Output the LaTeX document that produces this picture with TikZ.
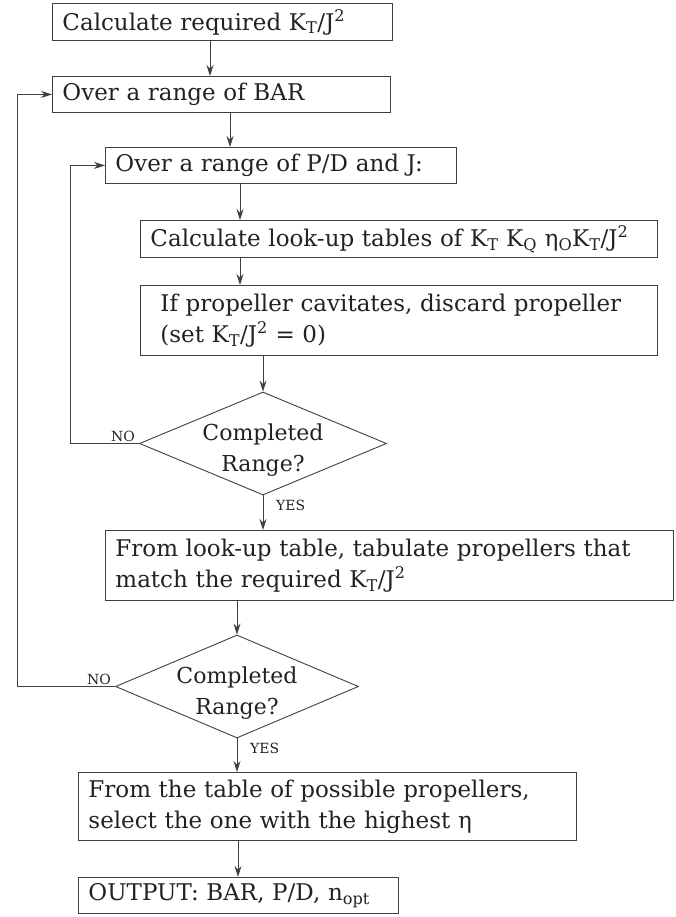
\documentclass[tikz,border=0pt]{standalone}
\usepackage{fontspec}
\setmainfont{DejaVu Serif}
\usetikzlibrary{arrows.meta,shapes.geometric}
\definecolor{linegray}{HTML}{404040}
\definecolor{textgray}{HTML}{222222}

\begin{document}
\begin{tikzpicture}[x=1pt, y=-1pt,
        box/.style={draw=linegray, line width=0.9pt, anchor=north west, inner xsep=10pt, inner ysep=0pt, align=left, text=textgray, font=\fontsize{23}{31}\selectfont},
        decision/.style={diamond, draw=linegray, line width=0.9pt, inner sep=0pt},
        question/.style={align=center, text=textgray, inner sep=0pt, font=\fontsize{22}{31}\selectfont},
        flow/.style={draw=linegray, line width=0.9pt, -{Stealth[length=11pt, width=7pt]}},
        tag/.style={font=\fontsize{14}{16}\selectfont, text=textgray, inner sep=1pt}]
        \useasboundingbox (0,0) rectangle (675,917);

        \node[box, text width=320pt, minimum height=37pt] (calc) at (52,3) {Calculate required K\textsubscript{T}/J\textsuperscript{2}};
        \node[box, text width=318pt, minimum height=36pt] (bar) at (52,76) {Over a range of BAR};
        \node[box, text width=331pt, minimum height=36pt] (pdj) at (105,147) {Over a range of P/D and J:};
        \node[box, text width=497pt, minimum height=37pt] (lookup) at (140,220) {Calculate look-up tables of K\textsubscript{T} K\textsubscript{Q} η\textsubscript{O}K\textsubscript{T}/J\textsuperscript{2}};
        \node[box, inner xsep=20pt, text width=477pt, minimum height=70pt] (cavit) at (140,285) {If propeller cavitates, discard propeller\\(set K\textsubscript{T}/J\textsuperscript{2} = 0)};
        \node[decision, minimum width=247pt, minimum height=103pt] (done1) at (263,443.5) {};
        \node[question] (q1) at (263,450) {Completed\\Range?};
        \node[box, text width=548pt, minimum height=70pt] (tab) at (105,530) {From look-up table, tabulate propellers that\\match the required K\textsubscript{T}/J\textsuperscript{2}};
        \node[decision, minimum width=243pt, minimum height=103pt] (done2) at (237,686.5) {};
        \node[question] (q2) at (237,693) {Completed\\Range?};
        \node[box, text width=478pt, minimum height=68pt] (best) at (78,772) {From the table of possible propellers,\\select the one with the highest η};
        \node[box, text width=300pt, minimum height=36pt] (out) at (78,877) {OUTPUT: BAR, P/D, n\textsubscript{opt}};

        % x positions of the vertical arrows and of the two loops
        \coordinate (a1) at (210,0);
        \coordinate (a2) at (230,0);
        \coordinate (a3) at (240,0);
        \coordinate (a4) at (238,0);
        \coordinate (outer) at (17,0);
        \coordinate (inner) at (70,0);

        \draw[flow] (calc.south -| a1) -- (bar.north -| a1);
        \draw[flow] (bar.south -| a2) -- (pdj.north -| a2);
        \draw[flow] (pdj.south -| a3) -- (lookup.north -| a3);
        \draw[flow] (lookup.south -| a3) -- (cavit.north -| a3);
        \draw[flow] (cavit.south -| done1.north) -- (done1.north);
        \draw[flow] (done1.south) -- (tab.north -| done1.south);
        \draw[flow] (tab.south -| done2.north) -- (done2.north);
        \draw[flow] (done2.south) -- (best.north -| done2.south);
        \draw[flow] (best.south -| a4) -- (out.north -| a4);

        % loops back
        \draw[flow] (done1.west) -- (done1.west -| inner) |- (pdj.west);
        \draw[flow] (done2.west) -- (done2.west -| outer) |- (bar.west);

        \node[tag, anchor=south east, xshift=-3pt, yshift=1pt] (no1) at (done1.west) {NO};
        \node[tag, anchor=south east, xshift=-3pt, yshift=1pt] (no2) at (done2.west) {NO};
        \node[tag, anchor=north west, xshift=12pt, yshift=-3pt] (yes1) at (done1.south) {YES};
        \node[tag, anchor=north west, xshift=12pt, yshift=-3pt] (yes2) at (done2.south) {YES};
    \end{tikzpicture}
\end{document}
